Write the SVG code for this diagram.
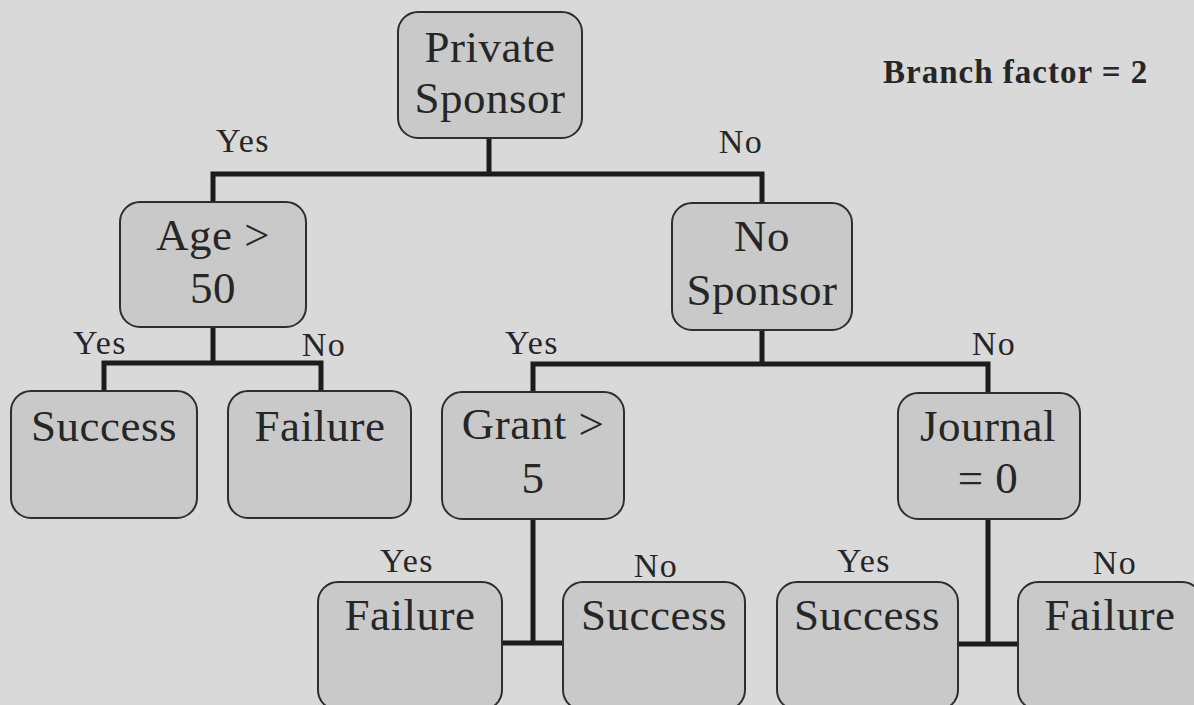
<svg xmlns="http://www.w3.org/2000/svg" width="1194" height="705" viewBox="0 0 1194 705">
<style>
.box{fill:#c9c9c9;stroke:#2e2e2e;stroke-width:2}
.t{font-family:"Liberation Serif","Times New Roman",serif;font-size:45px;fill:#262626;text-anchor:middle;letter-spacing:0.5px}
.l{font-family:"Liberation Serif","Times New Roman",serif;font-size:34px;fill:#262626;text-anchor:middle;letter-spacing:1.5px}
.c{fill:none;stroke:#1c1c1c;stroke-width:5;stroke-linecap:square;stroke-linejoin:miter}
</style>
<rect width="1194" height="705" fill="#d9d9d9"/>
<g id="connectors">
<path class="c" d="M489,138 V174 M213,174 H762 M213,174 V202 M762,174 V203"/>
<path class="c" d="M213,327 V363 M104,363 H321 M104,363 V391 M321,363 V391"/>
<path class="c" d="M762,330 V364 M533,364 H988 M533,364 V392 M988,364 V393"/>
<path class="c" d="M533,519 V643 M502,643 H563"/>
<path class="c" d="M988,519 V644 M958,644 H1018"/>
</g>
<g id="labels">
<text class="l" x="243" y="152">Yes</text>
<text class="l" x="741" y="153">No</text>
<text class="l" x="100" y="354">Yes</text>
<text class="l" x="324" y="356">No</text>
<text class="l" x="532" y="354">Yes</text>
<text class="l" x="994" y="355">No</text>
<text class="l" x="407" y="572">Yes</text>
<text class="l" x="656" y="577">No</text>
<text class="l" x="864" y="572">Yes</text>
<text class="l" x="1115" y="574">No</text>
</g>
<g id="root"><rect class="box" x="398" y="12" width="184" height="126" rx="20"/><text class="t" x="490" y="62">Private</text><text class="t" x="490" y="113">Sponsor</text></g>
<g id="age"><rect class="box" x="120" y="202" width="186" height="125" rx="20"/><text class="t" x="213" y="250">Age &gt;</text><text class="t" x="213" y="303">50</text></g>
<g id="nosponsor"><rect class="box" x="672" y="203" width="180" height="127" rx="20"/><text class="t" x="762" y="251">No</text><text class="t" x="762" y="305">Sponsor</text></g>
<g id="success1"><rect class="box" x="11" y="391" width="186" height="127" rx="20"/><text class="t" x="104" y="441">Success</text></g>
<g id="failure1"><rect class="box" x="228" y="391" width="183" height="127" rx="20"/><text class="t" x="320" y="441">Failure</text></g>
<g id="grant"><rect class="box" x="442" y="392" width="182" height="127" rx="20"/><text class="t" x="533" y="439">Grant &gt;</text><text class="t" x="533" y="493">5</text></g>
<g id="journal"><rect class="box" x="898" y="393" width="182" height="126" rx="20"/><text class="t" x="988" y="441">Journal</text><text class="t" x="988" y="493">= 0</text></g>
<g id="failure2"><rect class="box" x="318" y="582" width="184" height="128" rx="20"/><text class="t" x="410" y="630">Failure</text></g>
<g id="success2"><rect class="box" x="563" y="582" width="182" height="128" rx="20"/><text class="t" x="654" y="630">Success</text></g>
<g id="success3"><rect class="box" x="777" y="582" width="181" height="128" rx="20"/><text class="t" x="867" y="630">Success</text></g>
<g id="failure3"><rect class="box" x="1018" y="582" width="184" height="128" rx="20"/><text class="t" x="1110" y="630">Failure</text></g>
<g id="note"><text x="883" y="83" font-family="Liberation Serif, Times New Roman, serif" font-size="33" font-weight="bold" letter-spacing="1" fill="#262626">Branch factor = 2</text></g>
</svg>
